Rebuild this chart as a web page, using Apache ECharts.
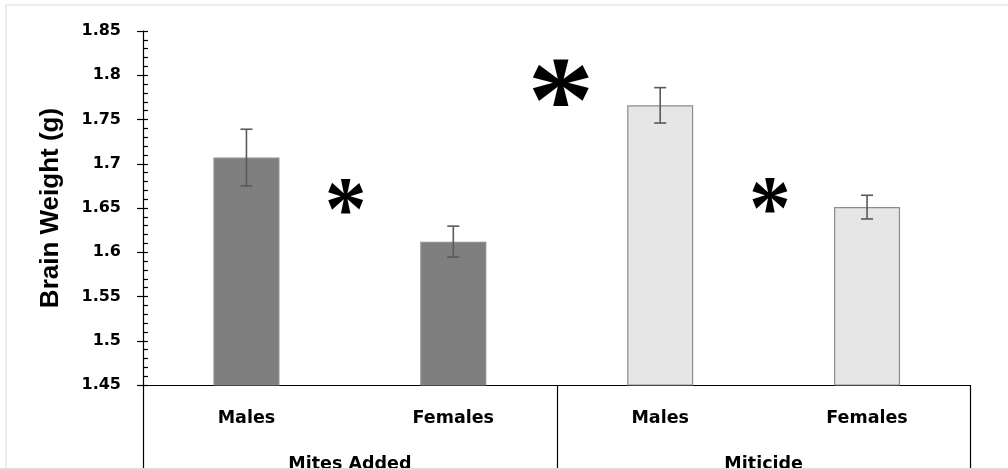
<!DOCTYPE html>
<html><head><meta charset="utf-8">
<script src="https://cdn.jsdelivr.net/npm/echarts@6/dist/echarts.min.js"></script>
<style>html,body{margin:0;padding:0;background:#fff}#c{width:1008px;height:470px}</style>
</head><body><div id="c"></div>
<script>
// ---- data ----
const groups = ['Mites Added', 'Miticide'];
const categories = ['Males', 'Females', 'Males', 'Females'];
const groupOfCategory = [0, 0, 1, 1];
const meanWeight = [1.707, 1.612, 1.766, 1.651];
const errorWeight = [0.032, 0.0175, 0.020, 0.0134];
const yMin = 1.45, yMax = 1.85, yStep = 0.05;
// significance asterisks (x in category-width units from the left edge, y in grams)
const asteriskX = [0.98, 2.02, 3.03];
const asteriskY = [1.664, 1.791, 1.665];
const asteriskBig = [0, 1, 0];

// ---- styles ----
const groupFill = ['#7f7f7f', '#e6e6e6'];
const groupBorder = ['#8a8a8a', '#8c8c8c'];
const labelFont = 'DejaVu Sans';

const chart = echarts.init(document.getElementById('c'), null, {renderer: 'canvas'});

const barData = meanWeight.map((v, i) => ({
  value: v,
  itemStyle: {color: groupFill[groupOfCategory[i]], borderColor: groupBorder[groupOfCategory[i]], borderWidth: 1.2}
}));
const errData = meanWeight.map((v, i) => [i, v - errorWeight[i], v + errorWeight[i]]);
const starData = asteriskX.map((x, i) => [x, asteriskY[i], asteriskBig[i]]);

const option = {
  animation: false,
  backgroundColor: '#fff',
  grid: {left: 143, right: 37.5, top: 31, bottom: 85, containLabel: false, outerBoundsMode: 'none'},
  xAxis: [
    {
      type: 'category', data: categories, position: 'bottom', offset: 0,
      boundaryGap: true,
      axisLine: {show: true, lineStyle: {color: '#000', width: 1.2}},
      axisTick: {show: false},
      axisLabel: {color: '#000', fontFamily: labelFont, fontWeight: 'bold', fontSize: 17.5, margin: 24, interval: 0}
    },
    {
      type: 'category', data: groups, position: 'bottom', offset: 0,
      boundaryGap: true,
      axisLine: {show: false},
      axisTick: {show: true, length: 90, lineStyle: {color: '#000', width: 1.2}},
      axisLabel: {color: '#000', fontFamily: labelFont, fontWeight: 'bold', fontSize: 17.5, margin: 70, interval: 0}
    },
    {
      type: 'value', min: 0, max: 4, show: false
    }
  ],
  yAxis: [
    {
      type: 'value', min: yMin, max: yMax, interval: yStep, position: 'left', offset: 0,
      name: 'Brain Weight (g)', nameLocation: 'middle', nameGap: 79, nameRotate: 90,
      nameTextStyle: {color: '#000', fontFamily: 'Liberation Sans', fontWeight: 'bold', fontSize: 26},
      axisLine: {show: true, lineStyle: {color: '#000', width: 1.2}},
      axisTick: {show: true, inside: false, length: 6, lineStyle: {color: '#000', width: 1.2}},
      axisLabel: {color: '#000', fontFamily: labelFont, fontWeight: 'bold', fontSize: 16, margin: 22},
      splitLine: {show: false}
    },
    {
      type: 'value', min: yMin, max: yMax, interval: yStep, position: 'left', offset: 0,
      axisLine: {show: false},
      axisTick: {show: true, inside: true, length: 5, lineStyle: {color: '#000', width: 1.2}},
      minorTick: {show: true, splitNumber: 5, length: 5, lineStyle: {color: '#000', width: 1.2}},
      axisLabel: {show: false},
      splitLine: {show: false}
    }
  ],
  series: [
    {
      type: 'bar', xAxisIndex: 0, yAxisIndex: 0, data: barData, barWidth: 66, z: 2
    },
    {
      type: 'custom', xAxisIndex: 0, yAxisIndex: 0, data: errData, z: 3,
      encode: {x: 0, y: [1, 2]},
      renderItem: function (params, api) {
        const lo = api.coord([api.value(0), api.value(1)]);
        const hi = api.coord([api.value(0), api.value(2)]);
        const cap = 6;
        const st = {stroke: '#595959', lineWidth: 1.6};
        return {type: 'group', children: [
          {type: 'line', shape: {x1: hi[0], y1: hi[1], x2: lo[0], y2: lo[1]}, style: st},
          {type: 'line', shape: {x1: hi[0] - cap, y1: hi[1], x2: hi[0] + cap, y2: hi[1]}, style: st},
          {type: 'line', shape: {x1: lo[0] - cap, y1: lo[1], x2: lo[0] + cap, y2: lo[1]}, style: st}
        ]};
      }
    },
    {
      type: 'custom', xAxisIndex: 2, yAxisIndex: 0, data: starData, z: 4,
      encode: {x: 0, y: 1},
      renderItem: function (params, api) {
        const p = api.coord([api.value(0), api.value(1)]);
        const big = api.value(2) === 1;
        const fs = big ? 122 : 91;
        return {
          type: 'text', x: p[0], y: p[1] + fs * 0.215, scaleX: big ? 1.1 : 0.92,
          style: {text: '*', fill: '#000', font: 'bold ' + fs + 'px "Liberation Serif"', textAlign: 'center', textVerticalAlign: 'middle'}
        };
      }
    }
  ],
  graphic: [
    {type: 'rect', shape: {x: 6, y: 5, width: 1100, height: 470}, style: {fill: 'none', stroke: '#d9d9d9', lineWidth: 1}, z: 100, silent: true},
    {type: 'rect', shape: {x: 0, y: 468, width: 1008, height: 2}, style: {fill: '#dcdcdc'}, z: 100, silent: true}
  ]
};
chart.setOption(option);
</script>
</body></html>
